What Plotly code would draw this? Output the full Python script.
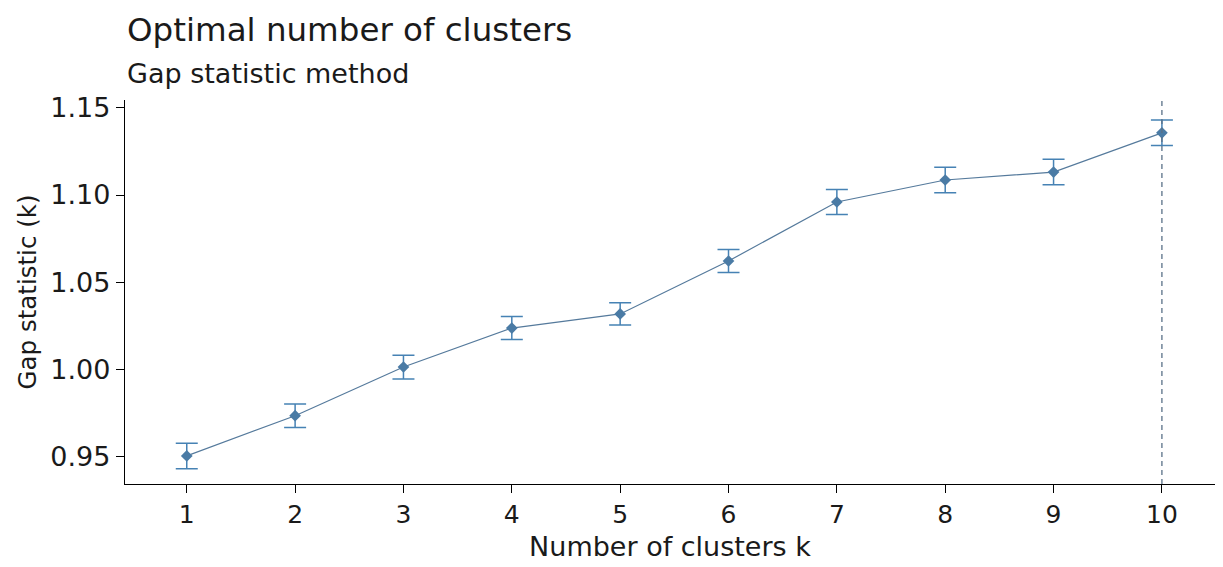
import plotly.graph_objects as go

# Gap statistic per number of clusters, with its standard error
clusters = [1, 2, 3, 4, 5, 6, 7, 8, 9, 10]
gap = [0.9506, 0.9736, 1.0015, 1.0238, 1.0319, 1.0622, 1.0960, 1.1086, 1.1131, 1.1356]
gap_se = [0.0073, 0.0067, 0.0068, 0.0066, 0.0064, 0.0066, 0.0072, 0.0073, 0.0073, 0.0073]
optimal_k = 10

y_tick_values = [0.95, 1.00, 1.05, 1.10, 1.15]
y_tick_labels = ["0.95", "1.00", "1.05", "1.10", "1.15"]

FONT = "DejaVu Sans, Liberation Sans, sans-serif"
TEXT = "#1a1a1a"
LINE_COLOR = "#4682B4"

fig = go.Figure()

fig.add_trace(go.Scatter(
    x=clusters,
    y=gap,
    mode="lines+markers",
    line=dict(color="#557a9c", width=1.2),
    marker=dict(symbol="diamond", size=9, color="#4a7ba5"),
    error_y=dict(type="data", array=gap_se, visible=True,
                 color=LINE_COLOR, thickness=1.5, width=11),
    showlegend=False,
))

# dashed marker for the chosen k
fig.add_shape(type="line", xref="x", yref="paper",
              x0=optimal_k, x1=optimal_k, y0=0, y1=1,
              line=dict(color="#5a7188", width=1.3, dash="5px,4px"))

fig.update_layout(
    width=1223, height=567,
    margin=dict(l=125, r=8, t=100, b=83),
    paper_bgcolor="white", plot_bgcolor="white",
    font=dict(family=FONT, color=TEXT),
    showlegend=False,
)

fig.update_xaxes(
    range=[0.43, 10.49],
    tickmode="array", tickvals=clusters, ticktext=[str(k) for k in clusters],
    showgrid=False, zeroline=False,
    showline=True, linecolor="black", linewidth=1.3,
    ticks="outside", ticklen=8, tickwidth=1.3, tickcolor="black",
    tickfont=dict(size=25, color=TEXT),
    title=dict(text="Number of clusters k", font=dict(size=27, color=TEXT), standoff=8),
)
fig.update_yaxes(
    range=[0.9345, 1.1544],
    tickmode="array", tickvals=y_tick_values, ticktext=y_tick_labels,
    showgrid=False, zeroline=False,
    showline=True, linecolor="black", linewidth=1.3,
    ticks="outside", ticklen=8, tickwidth=1.3, tickcolor="black",
    tickfont=dict(size=27, color=TEXT),
    title=dict(text="Gap statistic (k)", font=dict(size=24.5, color=TEXT), standoff=6),
)

# title and subtitle, left-aligned with the panel
fig.add_annotation(text="Optimal number of clusters", xref="paper", yref="paper",
                   x=0, y=1.1823, xanchor="left", yanchor="middle", showarrow=False,
                   font=dict(size=32.5, color=TEXT))
fig.add_annotation(text="Gap statistic method", xref="paper", yref="paper",
                   x=0, y=1.0703, xanchor="left", yanchor="middle", showarrow=False,
                   font=dict(size=27, color=TEXT))

fig.write_html("out.html")
